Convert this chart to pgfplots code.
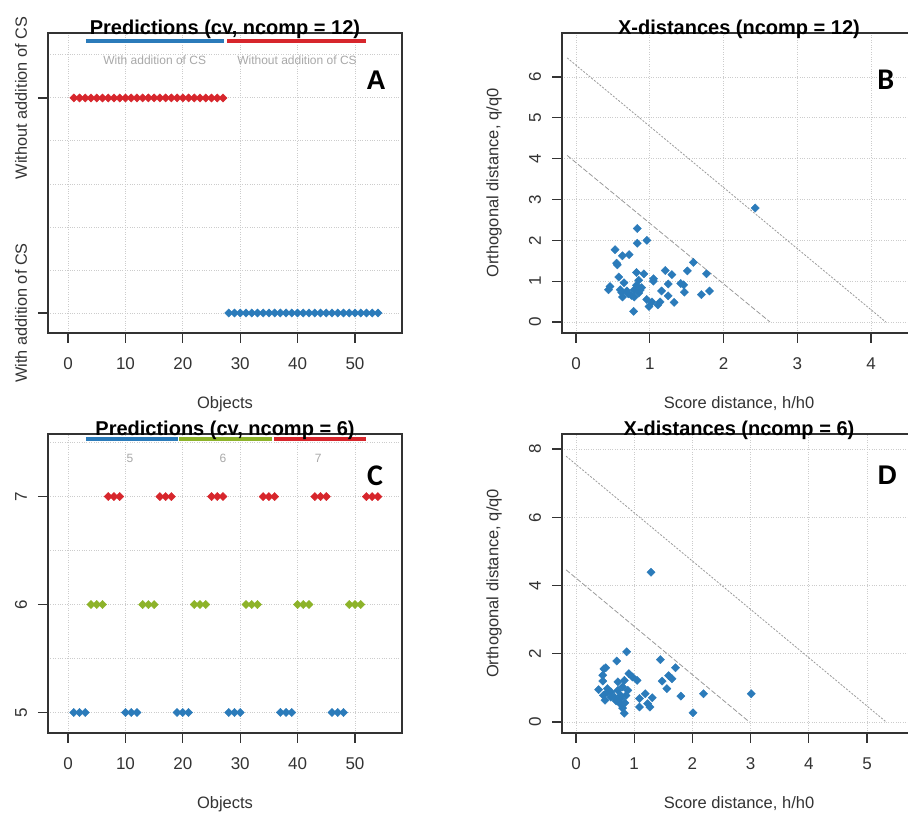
\documentclass[border=0pt]{standalone}
\usepackage{fontspec}
\setmainfont{Liberation Sans}
\newfontfamily\calibri{Carlito}
\usepackage{pgfplots}
\usepackage{pgfplotstable}
\pgfplotsset{compat=1.18}
\definecolor{cblue}{HTML}{2B7BBA}
\definecolor{cgreen}{HTML}{8DB32A}
\definecolor{cred}{HTML}{D7262C}
\definecolor{gridgray}{HTML}{CCCCCC}
\definecolor{boxgray}{HTML}{333333}
\definecolor{leggray}{HTML}{A8A8A8}
\definecolor{limgray}{HTML}{9A9A9A}

\pgfplotstableread{
x y
2.43 2.79
0.83 2.29
0.96 2.00
0.83 1.93
0.53 1.77
0.63 1.62
0.72 1.65
0.55 1.44
0.56 1.40
1.59 1.46
1.51 1.25
1.21 1.26
1.30 1.16
1.77 1.18
0.82 1.21
0.92 1.18
0.58 1.10
0.65 0.96
1.05 1.06
1.05 1.00
0.85 1.02
0.82 0.90
0.89 0.84
1.25 0.93
1.42 0.94
1.46 0.91
0.46 0.87
0.44 0.79
0.60 0.79
0.71 0.69
0.63 0.61
0.79 0.61
0.85 0.71
0.79 0.79
1.16 0.76
1.25 0.64
1.47 0.73
1.70 0.67
1.81 0.76
0.96 0.55
1.03 0.49
1.14 0.49
1.11 0.42
1.33 0.48
0.99 0.38
0.78 0.26
0.69 0.76
0.75 0.65
0.87 0.78
0.62 0.72
}\tabB

\pgfplotstableread{
x y
1.29 4.39
0.87 2.06
0.70 1.79
1.45 1.83
1.71 1.59
0.48 1.56
0.51 1.59
0.46 1.37
0.91 1.42
0.97 1.32
1.05 1.22
1.59 1.36
1.65 1.27
1.48 1.20
1.56 0.98
0.46 1.20
0.72 1.18
0.83 1.22
0.39 0.95
0.54 0.98
0.89 0.93
1.19 0.83
2.19 0.83
3.01 0.83
1.80 0.76
1.31 0.71
1.09 0.69
0.47 0.78
0.60 0.73
0.77 0.78
0.50 0.64
0.69 0.62
0.76 0.54
0.84 0.56
1.23 0.54
1.27 0.44
1.09 0.44
0.80 0.41
0.83 0.26
2.01 0.27
0.60 0.88
0.72 0.93
0.80 1.03
0.66 0.73
0.54 0.88
0.77 0.69
0.86 0.78
}\tabD

\pgfplotsset{
  rstyle/.style={
    scale only axis,
    width=354pt,
    clip=false,
    axis line style={boxgray, line width=1.2pt},
    tick align=outside,
    major tick length=10pt,
    minor tick length=0pt,
    tick style={boxgray, line width=1.2pt},
    xtick pos=left, ytick pos=left,
    xmajorgrids, ymajorgrids, yminorgrids,
    major grid style={gridgray, dotted, line width=0.9pt},
    minor grid style={gridgray, dotted, line width=0.9pt},
    /pgf/number format/assume math mode=true,
    ticklabel style={font=\fontsize{17}{20}\selectfont, text=boxgray},
    xticklabel style={anchor=center, yshift=-21pt},
    yticklabel style={rotate=90, anchor=center, yshift=17pt},
    label style={font=\fontsize{16.5}{20}\selectfont, text=boxgray},
    xlabel style={at={(axis description cs:0.5,0)}, anchor=center, yshift=-71pt},
    ylabel style={at={(axis description cs:0,0.5)}, anchor=center, yshift=68pt},
    title style={font=\bfseries\fontsize{20}{24}\selectfont, at={(axis description cs:0.5,1)}, anchor=base, yshift=-8pt},
  },
  pts/.style={only marks, mark=square*, mark size=2.9pt, mark options={rotate=45, draw=none, fill=#1}, color=#1},
  bar/.style={no marks, line width=4pt, color=#1},
}

\begin{document}
\begin{tikzpicture}
% ---------------- A ----------------
\begin{axis}[rstyle, at={(48pt,480pt)}, anchor=south west, height=300pt,
  xmin=-3.5, xmax=58.2, ymin=0.907, ymax=2.302,
  xtick={0,10,...,50},
  ytick={1,2}, yticklabels={With addition of CS, Without addition of CS},
  yticklabel style={font=\fontsize{16.3}{20}\selectfont},
  minor ytick={1.2,1.4,1.6,1.8,2.2},
  xlabel={Objects},
  title={Predictions (cv, ncomp = 12)}]
\addplot[bar=cblue] coordinates {(3.1,2.265) (27.2,2.265)};
\addplot[bar=cred] coordinates {(27.7,2.265) (52.0,2.265)};
\node[text=leggray, font=\fontsize{12}{14}\selectfont] at (axis cs:15.1,2.177) {With addition of CS};
\node[text=leggray, font=\fontsize{12}{14}\selectfont] at (axis cs:39.9,2.177) {Without addition of CS};
\addplot[pts=cred] coordinates {
(1,2)(2,2)(3,2)(4,2)(5,2)(6,2)(7,2)(8,2)(9,2)(10,2)(11,2)(12,2)(13,2)(14,2)
(15,2)(16,2)(17,2)(18,2)(19,2)(20,2)(21,2)(22,2)(23,2)(24,2)(25,2)(26,2)(27,2)};
\addplot[pts=cblue] coordinates {
(28,1)(29,1)(30,1)(31,1)(32,1)(33,1)(34,1)(35,1)(36,1)(37,1)(38,1)(39,1)(40,1)(41,1)
(42,1)(43,1)(44,1)(45,1)(46,1)(47,1)(48,1)(49,1)(50,1)(51,1)(52,1)(53,1)(54,1)};
\node[font=\bfseries\fontsize{27}{30}\selectfont] at (axis cs:53.7,2.084) {A};
\end{axis}

% ---------------- B ----------------
\begin{axis}[rstyle, at={(562pt,480pt)}, anchor=south west, height=300pt,
  xmin=-0.19, xmax=4.61, ymin=-0.27, ymax=7.08,
  xtick={0,1,2,3,4}, ytick={0,1,2,3,4,5,6},
  xlabel={Score distance, h/h0},
  ylabel={Orthogonal distance, q/q0},
  title={X-distances (ncomp = 12)}]
\addplot[no marks, limgray, line width=0.8pt, dash pattern=on 5pt off 2pt] coordinates {(-0.12,4.08) (2.63,0)};
\addplot[no marks, limgray, line width=0.8pt, dash pattern=on 2pt off 1.5pt] coordinates {(-0.12,6.47) (4.20,0)};
\addplot[pts=cblue] table[x=x,y=y] {\tabB};
\node[font=\calibri\bfseries\fontsize{30}{32}\selectfont] at (axis cs:4.20,5.93) {B};
\end{axis}

% ---------------- C ----------------
\begin{axis}[rstyle, at={(48pt,80pt)}, anchor=south west, height=299pt,
  xmin=-3.5, xmax=58.2, ymin=4.81, ymax=7.58,
  xtick={0,10,...,50},
  ytick={5,6,7}, minor ytick={5.5,6.5,7.5},
  xlabel={Objects},
  title={Predictions (cv, ncomp = 6)}]
\addplot[bar=cblue] coordinates {(3.1,7.53) (19.2,7.53)};
\addplot[bar=cgreen] coordinates {(19.4,7.53) (35.6,7.53)};
\addplot[bar=cred] coordinates {(35.9,7.53) (51.9,7.53)};
\node[text=leggray, font=\fontsize{12}{14}\selectfont] at (axis cs:10.8,7.35) {5};
\node[text=leggray, font=\fontsize{12}{14}\selectfont] at (axis cs:27.0,7.35) {6};
\node[text=leggray, font=\fontsize{12}{14}\selectfont] at (axis cs:43.6,7.35) {7};
\addplot[pts=cblue] coordinates {
(1,5)(2,5)(3,5)(10,5)(11,5)(12,5)(19,5)(20,5)(21,5)
(28,5)(29,5)(30,5)(37,5)(38,5)(39,5)(46,5)(47,5)(48,5)};
\addplot[pts=cgreen] coordinates {
(4,6)(5,6)(6,6)(13,6)(14,6)(15,6)(22,6)(23,6)(24,6)
(31,6)(32,6)(33,6)(40,6)(41,6)(42,6)(49,6)(50,6)(51,6)};
\addplot[pts=cred] coordinates {
(7,7)(8,7)(9,7)(16,7)(17,7)(18,7)(25,7)(26,7)(27,7)
(34,7)(35,7)(36,7)(43,7)(44,7)(45,7)(52,7)(53,7)(54,7)};
\node[font=\calibri\bfseries\fontsize{30}{32}\selectfont] at (axis cs:53.5,7.19) {C};
\end{axis}

% ---------------- D ----------------
\begin{axis}[rstyle, at={(562pt,80pt)}, anchor=south west, height=299pt,
  xmin=-0.24, xmax=5.84, ymin=-0.32, ymax=8.44,
  xtick={0,1,2,3,4,5}, ytick={0,2,4,6,8},
  xlabel={Score distance, h/h0},
  ylabel={Orthogonal distance, q/q0},
  title={X-distances (ncomp = 6)}]
\addplot[no marks, limgray, line width=0.8pt, dash pattern=on 5pt off 2pt] coordinates {(-0.17,4.46) (2.98,0)};
\addplot[no marks, limgray, line width=0.8pt, dash pattern=on 2pt off 1.5pt] coordinates {(-0.17,7.79) (5.33,0)};
\addplot[pts=cblue] table[x=x,y=y] {\tabD};
\node[font=\bfseries\fontsize{27}{30}\selectfont] at (axis cs:5.35,7.22) {D};
\end{axis}

\pgfresetboundingbox
\path[use as bounding box] (0pt,0pt) rectangle (908pt,813pt);
\end{tikzpicture}
\end{document}
